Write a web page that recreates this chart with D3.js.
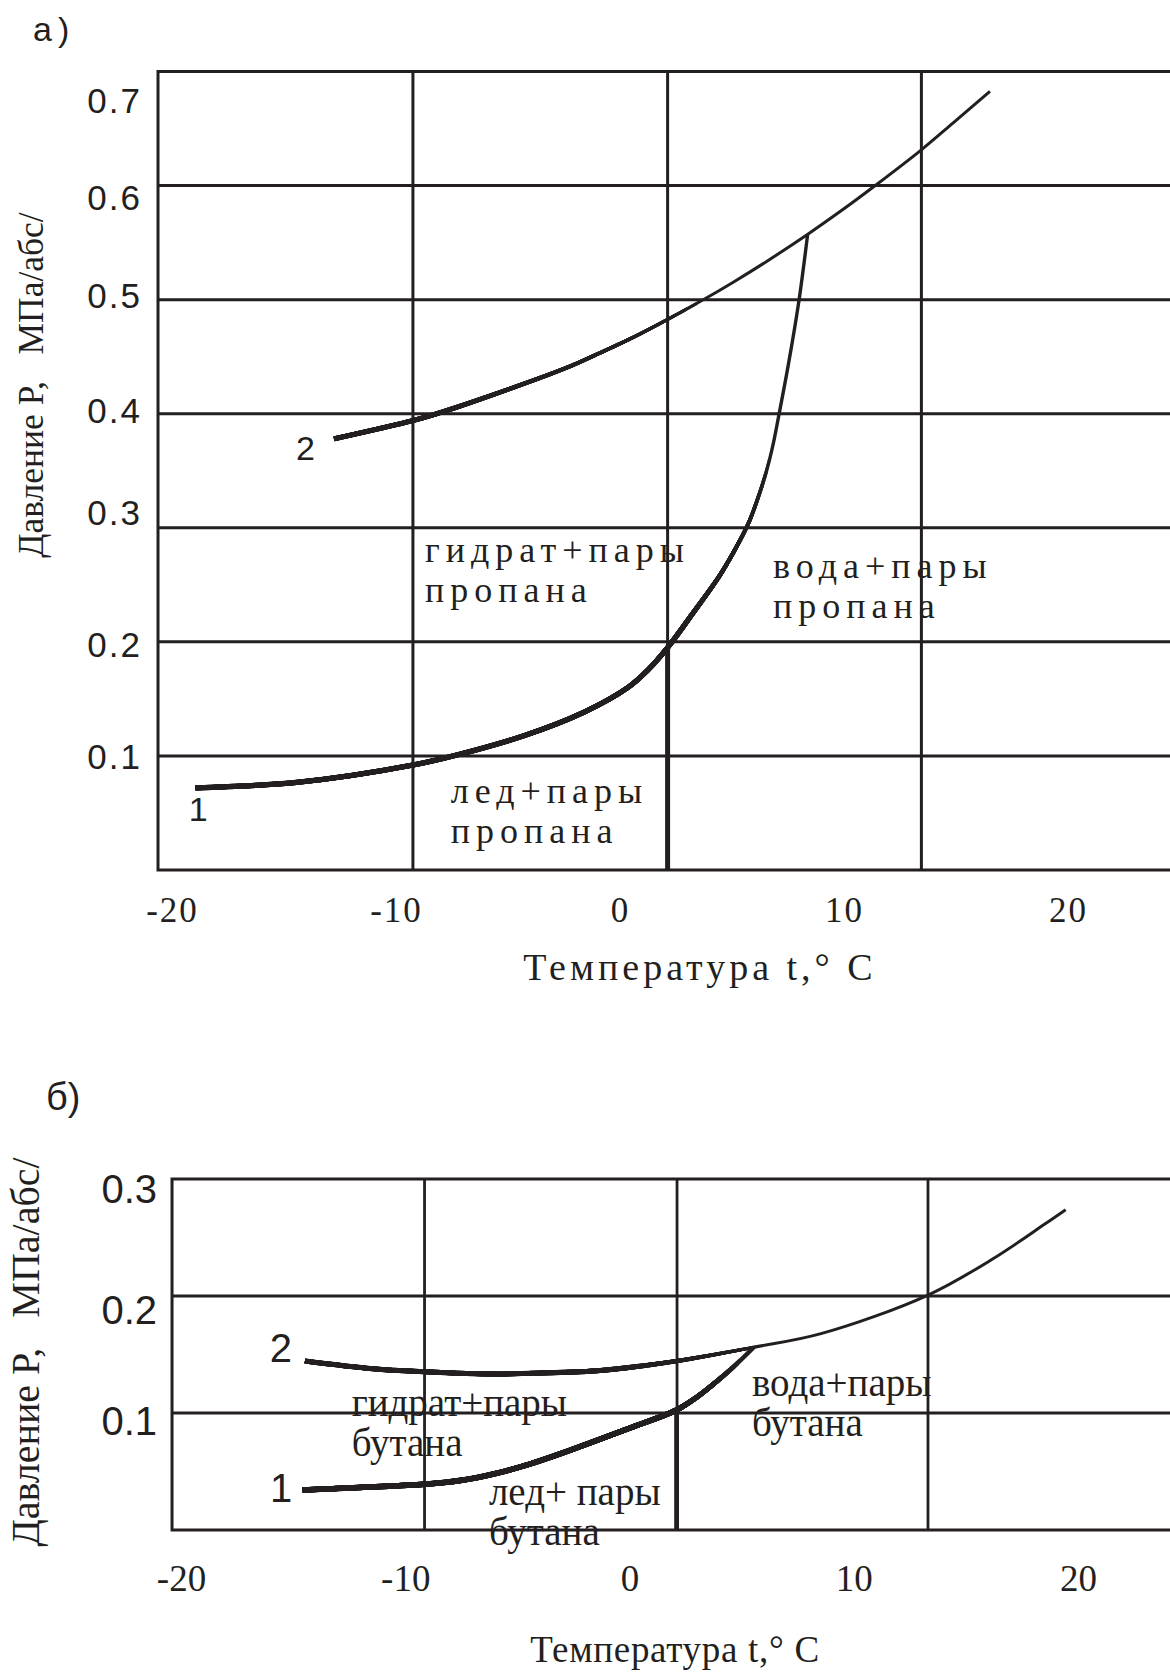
<!DOCTYPE html>
<html>
<head>
<meta charset="utf-8">
<script src="https://cdn.jsdelivr.net/npm/d3@7"></script>
<style>
  html, body { margin: 0; padding: 0; background: #fff; }
  svg { display: block; }
</style>
</head>
<body>
<svg id="fig" width="1170" height="1673"></svg>
<script>
// Temperature tick labels, °C (shared by both panels)
const tempTicks = [-20, -10, 0, 10, 20];

// ---------- Panel а: propane ----------
const propPressTicks   = [0.1, 0.2, 0.3, 0.4, 0.5, 0.6, 0.7];
// pressure at which each printed label sits
const propPressLabelAt = [0.099, 0.197, 0.313, 0.402, 0.503, 0.589, 0.674];
const propGridPress    = [0.1, 0.2, 0.3, 0.4, 0.5, 0.6];
const propGridTemps    = [-9.2, 2.17, 13.5];
const propFrameTemps   = [-20.58, 24.9];
const propPressMax     = 0.7;

// curve 1, hydrate equilibrium: ice branch, then water branch up to curve 2
const propCurve1Ice = [
  [-18.9, 0.072], [-14.3, 0.077], [-9.2, 0.092], [-7.2, 0.101], [-4.2, 0.118],
  [-1.6, 0.138], [0.4, 0.160], [1.3, 0.1755], [2.17, 0.195]
];
const propCurve1Water = [
  [2.17, 0.195], [3.26, 0.224], [4.46, 0.257], [5.07, 0.277], [5.76, 0.303],
  [6.15, 0.323], [6.59, 0.350], [6.89, 0.374], [7.12, 0.397], [7.56, 0.443],
  [8.04, 0.500], [8.42, 0.557]
];
// curve 2, propane vapour pressure
const propCurve2 = [
  [-12.72, 0.378], [-9.2, 0.394], [-8.13, 0.400], [-4.0, 0.428], [-2.19, 0.4415],
  [-0.85, 0.4533], [0.64, 0.467], [2.2, 0.483], [3.76, 0.4999], [5.1, 0.5153],
  [6.59, 0.5335], [8.38, 0.5567], [9.87, 0.5772], [11.47, 0.6005], [13.54, 0.632],
  [14.92, 0.655], [16.56, 0.6825]
];
const propRegions = [
  { lines: ["гидрат+пары", "пропана"], t: -8.66, p: 0.2703 },
  { lines: ["вода+пары", "пропана"],   t: 6.875, p: 0.2562 },
  { lines: ["лед+пары", "пропана"],    t: -7.51, p: 0.059 }
];
const propCurveNames = [
  { name: "2", t: -14.0,  p: 0.3594 },
  { name: "1", t: -18.79, p: 0.043 }
];

// ---------- Panel б: butane ----------
const butPressTicks   = [0.1, 0.2, 0.3];
const butPressLabelAt = [0.0925, 0.1875, 0.2906];
const butGridPress    = [0.1, 0.2];
const butGridTemps    = [-9.14, 2.12, 13.31];
const butFrameTemps   = [-20.4, 24.6];
const butPressMax     = 0.3;

const butCurve1Ice = [
  [-14.57, 0.0342], [-11.87, 0.0365], [-9.15, 0.0391], [-7.41, 0.0427], [-5.92, 0.0485],
  [-4.44, 0.0564], [-2.95, 0.0661], [-1.46, 0.0766], [0.02, 0.0872], [2.1, 0.1026]
];
const butCurve1Water = [
  [2.1, 0.1026], [3.0, 0.1135], [3.86, 0.1265], [4.7, 0.1405], [5.54, 0.1562]
];
const butCurve2 = [
  [-14.47, 0.1444], [-11.44, 0.1378], [-9.21, 0.1353], [-5.92, 0.1333], [-4.79, 0.1338],
  [-1.45, 0.1361], [2.1, 0.1444], [5.54, 0.1562], [8.54, 0.1678], [13.29, 0.2006],
  [16.19, 0.2316], [18.52, 0.2615], [19.45, 0.2738]
];
const butRegions = [
  { lines: ["гидрат+пары", "бутана"], t: -12.39, p: 0.0974 },
  { lines: ["вода+пары", "бутана"],   t: 5.46,   p: 0.1145 },
  { lines: ["лед+ пары", "бутана"],   t: -6.27,  p: 0.0214 }
];
const butCurveNames = [
  { name: "2", t: -15.55, p: 0.1438 },
  { name: "1", t: -15.54, p: 0.0242 }
];

// ---------- drawing ----------
const INK = "#231f20";
const SERIF = "'Liberation Serif', 'Times New Roman', serif";
const SANS = "'Liberation Sans', Arial, sans-serif";
const svg = d3.select("#fig");
svg.append("rect").attr("width", 1170).attr("height", 1673).attr("fill", "#fff");
const defs = svg.append("defs");
let clipCount = 0;

const Y_TITLE = "Давление Р,\u00A0\u00A0 МПа/абс/";
const X_TITLE = "Температура t,° C";

function drawPanel(c) {
  const g = svg.append("g");
  const x = d3.scaleLinear().domain([-20, 20]).range(c.xRange);
  const y = d3.scaleLinear().domain([0, c.pMax]).range(c.yRange);

  const x0 = x(c.frameTemps[0]), x1 = x(c.frameTemps[1]);

  // grid
  g.selectAll(".hgrid").data(c.gridPress).join("line")
    .attr("x1", x0).attr("x2", x1)
    .attr("y1", d => y(d)).attr("y2", d => y(d))
    .attr("stroke", INK).attr("stroke-width", c.gridW);
  g.selectAll(".vgrid").data(c.gridTemps).join("line")
    .attr("x1", d => x(d)).attr("x2", d => x(d))
    .attr("y1", y(0)).attr("y2", y(c.pMax))
    .attr("stroke", INK).attr("stroke-width", c.gridW);
  // frame
  g.append("rect")
    .attr("x", x0).attr("y", y(c.pMax))
    .attr("width", x1 - x0).attr("height", y(0) - y(c.pMax))
    .attr("fill", "none").attr("stroke", INK).attr("stroke-width", c.frameW);

  // temperature tick labels
  const xa = g.append("g").attr("transform", `translate(0,${y(0)})`)
    .call(d3.axisBottom(x).tickValues(tempTicks).tickSize(0)
      .tickPadding(c.xTickPad).tickFormat(d => String(d)));
  xa.select(".domain").remove();
  xa.selectAll("text")
    .attr("fill", INK)
    .style("font-family", SERIF).style("font-size", c.xTickSize + "px")
    .style("letter-spacing", c.xTickLS + "px")
    .attr("dx", (c.xTickLS / 2) + "px");

  // pressure tick labels
  const yl = d3.scaleLinear().domain(c.pressTicks).range(c.pressLabelAt.map(y));
  const ya = g.append("g").attr("transform", `translate(${c.yLabelRight},0)`)
    .call(d3.axisLeft(yl).tickValues(c.pressTicks).tickSize(0).tickPadding(0)
      .tickFormat(d3.format(".1f")));
  ya.select(".domain").remove();
  ya.selectAll("text")
    .attr("fill", INK)
    .style("font-family", SANS).style("font-size", c.yTickSize + "px")
    .style("letter-spacing", c.yTickLS + "px")
    .attr("dx", c.yTickLS + "px");

  // curves: a line whose stroke tapers from wStart to wEnd between tStart and tEnd
  const line = d3.line().x(d => x(d[0])).y(d => y(d[1]))
    .curve(d3.curveCatmullRom.alpha(0.5));
  function tapered(data, tp) {
    const dStr = line(data);
    g.append("path").attr("d", dStr)
      .attr("fill", "none").attr("stroke", INK).attr("stroke-width", tp.wEnd);
    const steps = 24;
    for (let k = 1; k <= steps; k++) {
      const w = tp.wEnd + (tp.wStart - tp.wEnd) * k / steps;
      const tCut = tp.tEnd - (tp.tEnd - tp.tStart) * k / steps;
      const id = "clip" + (clipCount++);
      defs.append("clipPath").attr("id", id).append("rect")
        .attr("x", 0).attr("y", 0).attr("width", x(tCut)).attr("height", 1673);
      g.append("path").attr("d", dStr).attr("clip-path", `url(#${id})`)
        .attr("fill", "none").attr("stroke", INK).attr("stroke-width", w);
    }
  }

  tapered(c.curve2, c.c2Taper);
  tapered(c.curve1Ice.concat(c.curve1Water.slice(1)), c.c1Taper);

  // quadruple-point vertical down to zero pressure
  const q = c.curve1Ice[c.curve1Ice.length - 1];
  g.append("line")
    .attr("x1", x(q[0])).attr("x2", x(q[0]))
    .attr("y1", y(q[1])).attr("y2", y(0))
    .attr("stroke", INK).attr("stroke-width", c.quadW);

  // region labels
  c.regions.forEach(r => {
    const t = g.append("text")
      .attr("x", x(r.t)).attr("y", y(r.p))
      .attr("fill", INK)
      .style("font-family", SERIF).style("font-size", c.regionSize + "px")
      .style("letter-spacing", c.regionLS + "px");
    r.lines.forEach((s, i) => t.append("tspan")
      .attr("x", x(r.t)).attr("dy", i === 0 ? 0 : c.regionLead)
      .text(s));
  });

  // curve numbers
  g.selectAll(".cname").data(c.curveNames).join("text")
    .attr("x", d => x(d.t)).attr("y", d => y(d.p))
    .attr("text-anchor", "middle").attr("fill", INK)
    .style("font-family", SANS).style("font-size", c.nameSize + "px")
    .text(d => d.name);

  // axis titles
  g.append("text")
    .attr("transform", `translate(${c.yTitleX},${c.yTitleY}) rotate(-90)`)
    .attr("text-anchor", "middle").attr("fill", INK)
    .style("font-family", SERIF).style("font-size", c.yTitleSize + "px")
    .style("letter-spacing", c.yTitleLS + "px")
    .text(Y_TITLE);
  g.append("text")
    .attr("x", c.xTitleX).attr("y", c.xTitleY)
    .attr("text-anchor", "middle").attr("fill", INK)
    .style("font-family", SERIF).style("font-size", c.xTitleSize + "px")
    .style("letter-spacing", c.xTitleLS + "px")
    .text(X_TITLE);

  // panel letter
  g.append("text")
    .attr("x", c.tagX).attr("y", c.tagY).attr("fill", INK)
    .style("font-family", SANS).style("font-size", c.tagSize + "px")
    .style("letter-spacing", c.tagLS + "px")
    .text(c.tag);
}

drawPanel({
  xRange: [171, 1067], yRange: [870, 71.5], pMax: propPressMax,
  frameTemps: propFrameTemps, gridPress: propGridPress, gridTemps: propGridTemps,
  pressTicks: propPressTicks, pressLabelAt: propPressLabelAt,
  curve1Ice: propCurve1Ice, curve1Water: propCurve1Water, curve2: propCurve2,
  regions: propRegions, curveNames: propCurveNames,
  gridW: 3, frameW: 3, quadW: 5,
  c2Taper: { wStart: 5, wEnd: 3, tStart: -8, tEnd: 4 },
  c1Taper: { wStart: 5.2, wEnd: 3.4, tStart: 3, tEnd: 6.8 },
  xTickPad: 27, xTickSize: 35, xTickLS: 2,
  yLabelRight: 140, yTickSize: 35, yTickLS: 2,
  regionSize: 36, regionLS: 6, regionLead: 40,
  nameSize: 34,
  yTitleX: 43, yTitleY: 385, yTitleSize: 35.5, yTitleLS: 0,
  xTitleX: 700, xTitleY: 980, xTitleSize: 38, xTitleLS: 4,
  tag: "а)", tagX: 33, tagY: 41, tagSize: 34, tagLS: 6
});

drawPanel({
  xRange: [181, 1078], yRange: [1530, 1179], pMax: butPressMax,
  frameTemps: butFrameTemps, gridPress: butGridPress, gridTemps: butGridTemps,
  pressTicks: butPressTicks, pressLabelAt: butPressLabelAt,
  curve1Ice: butCurve1Ice, curve1Water: butCurve1Water, curve2: butCurve2,
  regions: butRegions, curveNames: butCurveNames,
  gridW: 2.8, frameW: 3, quadW: 4.8,
  c2Taper: { wStart: 5, wEnd: 3, tStart: 0, tEnd: 6 },
  c1Taper: { wStart: 5.5, wEnd: 4.5, tStart: 2, tEnd: 5 },
  xTickPad: 35, xTickSize: 37, xTickLS: 0,
  yLabelRight: 157, yTickSize: 40, yTickLS: 0,
  regionSize: 39, regionLS: 0, regionLead: 40,
  nameSize: 40,
  yTitleX: 39, yTitleY: 1352, yTitleSize: 40, yTitleLS: 0,
  xTitleX: 675, xTitleY: 1662, xTitleSize: 37, xTitleLS: 0.7,
  tag: "б)", tagX: 46, tagY: 1110, tagSize: 38, tagLS: 0
});
</script>
</body>
</html>
